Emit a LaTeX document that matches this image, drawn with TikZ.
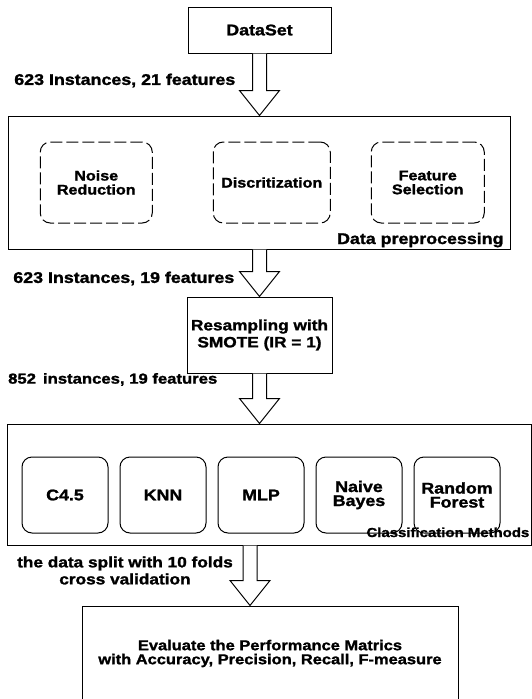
\documentclass[tikz,border=0pt]{standalone}
\usepackage{fontspec}
\setmainfont{Liberation Sans}[FakeStretch=1.15, BoldFeatures={FakeBold=1.5}]
\usetikzlibrary{positioning,calc}

% hollow block arrow from a point on one box down to a point on the next
\newcommand{\flowarrow}[2]{%
  \draw[hollow] ($(#1)+(-7,0)$) -- ($(#2)+(-7,25)$) -- ($(#2)+(-20,25)$)
    -- (#2) -- ($(#2)+(20,25)$) -- ($(#2)+(7,25)$) -- ($(#1)+(7,0)$);}

\begin{document}
\begin{tikzpicture}[
    x=1pt, y=1pt,
    every node/.style={font=\bfseries\fontsize{15.5}{14}\selectfont},
    frame/.style={rectangle, draw=black, line width=1pt, inner sep=0pt, align=center},
    prepbox/.style={rectangle, rounded corners=10pt, draw=black, line width=1pt, dash pattern=on 12pt off 4pt, minimum height=81pt, align=center, inner sep=0pt, font=\bfseries\fontsize{14}{14}\selectfont},
    method/.style={rectangle, rounded corners=10pt, draw=black, line width=1pt, minimum width=86pt, minimum height=76pt, align=center, inner sep=0pt},
    lbl/.style={inner sep=0pt, align=center},
    hollow/.style={draw=black, line width=1pt, fill=white, line join=miter}
]

\useasboundingbox (0,0) rectangle (532,-699);
\fill[white] (0,0) rectangle (532,-699);

\node (dataset) [frame, minimum width=143pt, minimum height=46pt] at (259.5,-30) {DataSet};

\node (prep) [frame, minimum width=501.5pt, minimum height=133pt, below=62pt of dataset] {};
\node (noise) [prepbox, minimum width=112pt, right=31.5pt of prep.west] {Noise\\Reduction};
\node (disc) [prepbox, minimum width=117pt, right=60pt of noise] {Discritization};
\node (feat) [prepbox, minimum width=113pt, right=40pt of disc] {Feature\\Selection};
\node (preplbl) [lbl, anchor=base east] at ($(prep.south east)+(-7,5.5)$) {Data preprocessing};

\node (resample) [frame, minimum width=145pt, minimum height=76pt, below=47pt of prep, font=\bfseries\fontsize{15}{17}\selectfont] {Resampling with\\SMOTE (IR = 1)};

\node (classif) [frame, minimum width=524pt, minimum height=121pt, below=50pt of resample, xshift=9.5pt] {};
\node (c45) [method, right=15pt of classif.west, yshift=-10.5pt] {C4.5};
\node (knn) [method, right=11pt of c45] {KNN};
\node (mlp) [method, right=11pt of knn] {MLP};
\node (nb) [method, right=11pt of mlp] {Naive\\Bayes};
\node (rf) [method, right=11pt of nb] {Random\\Forest};
\node (clslbl) [lbl, anchor=base east, font=\bfseries\fontsize{13}{14}\selectfont] at ($(classif.south east)+(-2,8.5)$) {Classification Methods};

\node (eval) [frame, minimum width=376pt, minimum height=95pt, below=60pt of classif, xshift=1pt, font=\bfseries\fontsize{14.3}{14}\selectfont] {Evaluate the Performance Matrics\\with Accuracy, Precision, Recall, F-measure};

% arrows between the stages
\coordinate (a1) at (prep.north -| dataset.south);
\coordinate (a2) at (resample.north -| prep.south);
\coordinate (a3) at (classif.north -| resample.south);
\coordinate (cv) at ($(classif.south)+(-19,0)$);
\coordinate (a4) at (eval.north -| cv);
\flowarrow{dataset.south}{a1}
\flowarrow{prep.south}{a2}
\flowarrow{resample.south}{a3}
\flowarrow{cv}{a4}

\node (inst1) [lbl, anchor=east] at ($(dataset.south)+(-24,-27)$) {623 Instances, 21 features};
\node (inst2) [lbl, anchor=east] at ($(prep.south)+(-25,-29)$) {623 Instances, 19 features};
\node (inst3) [lbl, anchor=east, font=\bfseries\fontsize{14.5}{14}\selectfont] at ($(resample.south)+(-42,-6)$) {852\,\ instances, 19 features};
\node (cvlbl) [lbl, anchor=east, font=\bfseries\fontsize{15}{17}\selectfont] at ($(cv)+(-17,-25)$) {the data split with 10 folds\\cross validation};

\end{tikzpicture}
\end{document}
